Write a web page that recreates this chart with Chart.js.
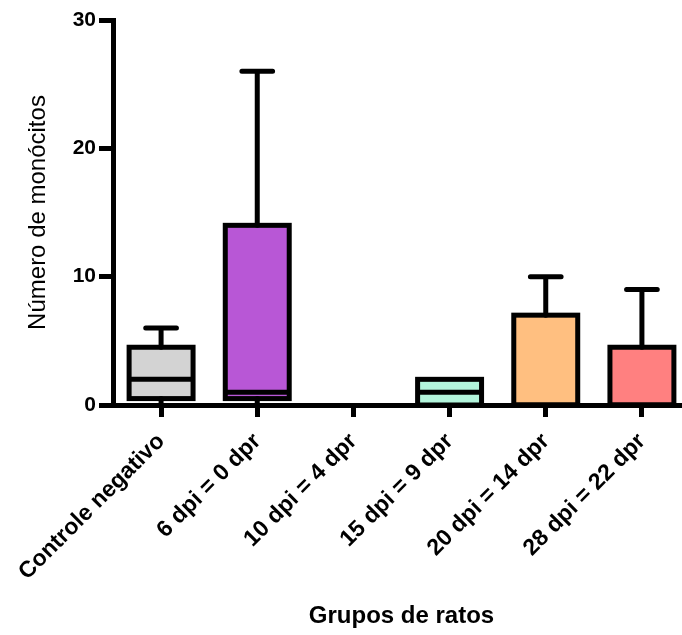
<!DOCTYPE html>
<html>
<head>
<meta charset="utf-8">
<script src="https://cdn.jsdelivr.net/npm/chart.js@4"></script>
<style>
  html, body { margin: 0; padding: 0; background: #fff; overflow: hidden; }
  #caixa { width: 700px; height: 635px; }
</style>
</head>
<body>
<div id="caixa"><canvas id="grafico" width="700" height="635"></canvas></div>
<script>
// Dados do boxplot (min-max)
const grupos = ['Controle negativo', '6 dpi = 0 dpr', '10 dpi = 4 dpr', '15 dpi = 9 dpr', '20 dpi = 14 dpr', '28 dpi = 22 dpr'];
const minimos = [0, 0, 0, 0, 0, 0];
const quartil1 = [0.5, 0.5, 0, 0, 0, 0];
const medianas = [2, 1, 0, 1, 0, 0];
const quartil3 = [4.5, 14, 0, 2, 7, 4.5];
const maximos = [6, 26, 0, 2, 10, 9];
const cores = ['#D3D3D3', '#B857D6', '#B3F5DC', '#FFBF80', '#FF8080'];
const coresCaixas = [cores[0], cores[1], '#FFFFFF', cores[2], cores[3], cores[4]];
const ticksY = [0, 10, 20, 30];

const fonte = "'Liberation Sans', Arial, sans-serif";

// Contornos, medianas e bigodes desenhados pelas escalas do Chart.js
const boxplotPlugin = {
  id: 'boxplot',
  afterDatasetsDraw(chart) {
    const ctx = chart.ctx;
    const y = chart.scales.y;
    const meta = chart.getDatasetMeta(0);
    ctx.save();
    ctx.strokeStyle = '#000';
    ctx.lineWidth = 5;
    meta.data.forEach((bar, i) => {
      const x = bar.x;
      const w = bar.width;
      const yQ1 = y.getPixelForValue(quartil1[i]);
      const yQ3 = y.getPixelForValue(quartil3[i]);
      const yMed = y.getPixelForValue(medianas[i]);
      const yMax = y.getPixelForValue(maximos[i]);
      const yMin = y.getPixelForValue(minimos[i]);
      const cap = w * 0.48;

      // bigodes
      ctx.lineCap = 'round';
      if (maximos[i] > quartil3[i]) {
        ctx.beginPath();
        ctx.moveTo(x, yQ3);
        ctx.lineTo(x, yMax);
        ctx.moveTo(x - cap / 2, yMax);
        ctx.lineTo(x + cap / 2, yMax);
        ctx.stroke();
      }
      if (minimos[i] < quartil1[i]) {
        ctx.beginPath();
        ctx.moveTo(x, yQ1);
        ctx.lineTo(x, yMin);
        ctx.stroke();
      }

      if (quartil3[i] === quartil1[i]) return;
      // caixa
      ctx.lineCap = 'butt';
      ctx.lineJoin = 'miter';
      ctx.strokeRect(x - w / 2, yQ3, w, yQ1 - yQ3);
      // mediana
      ctx.beginPath();
      ctx.moveTo(x - w / 2, yMed);
      ctx.lineTo(x + w / 2, yMed);
      ctx.stroke();
    });
    ctx.restore();
  }
};

new Chart(document.querySelector('#grafico'), {
  type: 'bar',
  data: {
    labels: grupos,
    datasets: [{
      data: grupos.map((g, i) => [quartil1[i], quartil3[i]]),
      backgroundColor: coresCaixas,
      borderWidth: 0,
      barPercentage: 0.665,
      categoryPercentage: 1
    }]
  },
  options: {
    responsive: false,
    animation: false,
    layout: { padding: { top: 20, right: 10, left: 0, bottom: 0 } },
    plugins: { legend: { display: false }, tooltip: { enabled: false } },
    scales: {
      x: {
        afterFit(scale) { scale.height = 230; },
        border: { display: true, color: '#000', width: 5 },
        grid: { offset: false, drawOnChartArea: false, drawTicks: true, tickLength: 12, tickWidth: 5, tickColor: '#000' },
        ticks: {
          color: '#000',
          font: { family: fonte, size: 23, weight: 'bold' },
          minRotation: 45,
          maxRotation: 45,
          padding: 11,
          autoSkip: false
        },
        title: {
          display: true,
          text: 'Grupos de ratos',
          color: '#000',
          font: { family: fonte, size: 24, weight: 'bold' },
          padding: { top: 0, bottom: 4 }
        }
      },
      y: {
        min: 0,
        max: 30,
        afterFit(scale) { scale.width = 113; },
        afterBuildTicks(scale) { scale.ticks = ticksY.map(v => ({ value: v })); },
        border: { display: true, color: '#000', width: 5 },
        grid: { drawOnChartArea: false, drawTicks: true, tickLength: 14, tickWidth: 5, tickColor: '#000' },
        ticks: {
          color: '#000',
          font: { family: fonte, size: 21, weight: 'bold' },
          padding: 3
        },
        title: {
          display: true,
          text: 'Número de monócitos',
          color: '#000',
          font: { family: fonte, size: 24 },
          padding: { top: 24, bottom: 0 }
        }
      }
    }
  },
  plugins: [boxplotPlugin]
});
</script>
</body>
</html>
